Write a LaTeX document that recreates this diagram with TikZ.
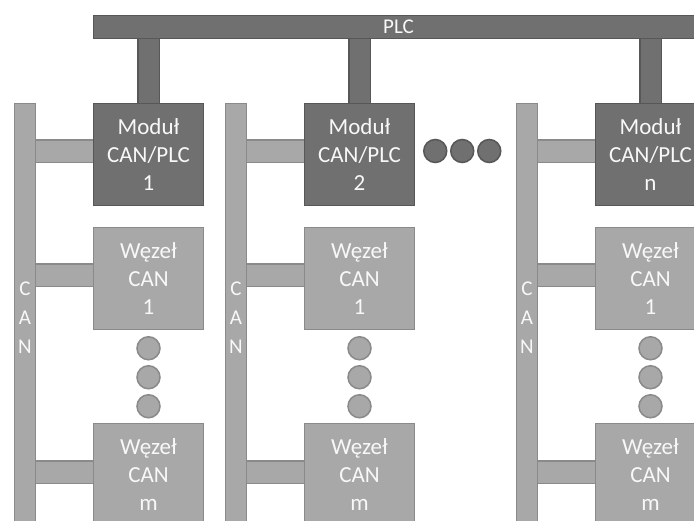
\documentclass[tikz,border=0pt]{standalone}
\usepackage{fontspec}
\setmainfont{Carlito}
\usetikzlibrary{backgrounds}
\definecolor{dk}{HTML}{707070}
\definecolor{dkb}{HTML}{575757}
\definecolor{lt}{HTML}{A8A8A8}
\definecolor{ltb}{HTML}{8A8A8A}
\definecolor{tx}{HTML}{F8F8F8}
\tikzset{
 box/.style={draw, line width=1.5pt, rectangle, inner sep=0pt, minimum width=110pt, minimum height=102pt, anchor=north west, text=tx, align=center, font=\fontsize{23}{28}\selectfont},
 modbox/.style={box, fill=dk, draw=dkb},
 nodebox/.style={box, fill=lt, draw=ltb},
 railbox/.style={draw=ltb, fill=lt, line width=1.5pt, inner sep=0pt, minimum width=21pt, minimum height=428pt, anchor=north west, text=tx, align=center, font=\fontsize{21}{29}\selectfont},
 busbox/.style={draw=dkb, fill=dk, line width=1.5pt, inner sep=0pt, minimum width=610pt, minimum height=23pt, anchor=north west, text=tx, font=\fontsize{21}{24}\selectfont},
 vconn/.style={draw=dkb, line width=1.5pt, double=dk, double distance=20pt},
 hconn/.style={draw=ltb, line width=1.5pt, double=lt, double distance=21pt},
 dotdk/.style={circle, draw=dkb, fill=dk, line width=1.5pt, minimum size=23pt, inner sep=0pt},
 dotlt/.style={circle, draw=ltb, fill=lt, line width=1.5pt, minimum size=23pt, inner sep=0pt},
}
\begin{document}
\begin{tikzpicture}[x=1pt,y=-1pt]
\useasboundingbox (0,0) rectangle (694,521);
\begin{scope}[on background layer]
  \fill[white] (0,0) rectangle (694,521);
\end{scope}
\clip (0,0) rectangle (694,521);
\node[busbox] (plc) at (92.75,14.75) {PLC};
\foreach \dx/\k/\lab in {0/a/1,211/b/2,502/c/n}{
  \node[railbox] (rail\k) at (13.75+\dx,102.75) {C\\A\\N};
  \node[modbox] (mod\k) at (92.75+\dx,102.75) {Moduł\\CAN/PLC\\\lab};
  \node[nodebox] (n1\k) at (92.75+\dx,226.75) {Węzeł\\CAN\\1};
  \node[nodebox] (nm\k) at (92.75+\dx,422.75) {Węzeł\\CAN\\m};
  \node[dotlt] (da\k) at ([yshift=-18pt]n1\k.south) {};
  \node[dotlt] (db\k) at ([yshift=-47pt]n1\k.south) {};
  \node[dotlt] (dc\k) at ([yshift=-76pt]n1\k.south) {};
  \begin{scope}[on background layer]
    \draw[vconn] (mod\k.center) -- (mod\k.center |- plc.center);
    \draw[hconn] ([yshift=3pt]mod\k.center) -- ([yshift=3pt]mod\k.center -| rail\k.center);
    \draw[hconn] ([yshift=3pt]n1\k.center) -- ([yshift=3pt]n1\k.center -| rail\k.center);
    \draw[hconn] ([yshift=2.5pt]nm\k.center) -- ([yshift=2.5pt]nm\k.center -| rail\k.center);
  \end{scope}
}
\node[dotdk] (h1) at ([xshift=20pt,yshift=3.5pt]modb.east) {};
\node[dotdk] (h2) at ([xshift=47pt,yshift=3.5pt]modb.east) {};
\node[dotdk] (h3) at ([xshift=74pt,yshift=3.5pt]modb.east) {};
\end{tikzpicture}
\end{document}
